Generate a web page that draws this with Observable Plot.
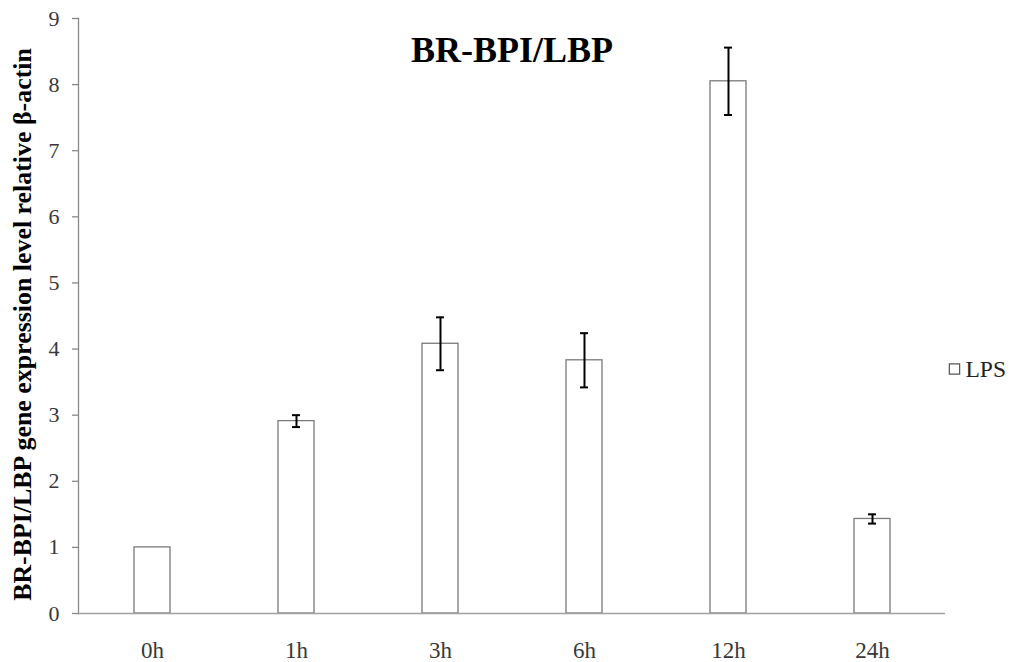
<!DOCTYPE html>
<html>
<head>
<meta charset="utf-8">
<script src="https://cdn.jsdelivr.net/npm/d3@7"></script>
<script src="https://cdn.jsdelivr.net/npm/@observablehq/plot@0.6"></script>
<style>
  html, body { margin: 0; padding: 0; background: #fff; }
  #chart { width: 1012px; height: 662px; }
  #chart svg text { font-family: 'Liberation Serif', 'Times New Roman', serif; }
</style>
</head>
<body>
<div id="chart"></div>
<script>
const categories = ["0h", "1h", "3h", "6h", "12h", "24h"];
const means = [1.0, 2.91, 4.08, 3.83, 8.05, 1.43];
const errors = [0, 0.09, 0.40, 0.41, 0.51, 0.07];
const yTicks = [0, 1, 2, 3, 4, 5, 6, 7, 8, 9];
const seriesName = "LPS";
const title = "BR-BPI/LBP";
const yLabel = "BR-BPI/LBP gene expression level relative β-actin";

const rows = categories.map((c, i) => ({cat: c, v: means[i], e: errors[i]}));
const errRows = rows.filter(d => d.e > 0);

const serif = "'Liberation Serif', 'Times New Roman', serif";

const chart = Plot.plot({
  width: 1012,
  height: 662,
  marginLeft: 78,
  marginRight: 67,
  marginTop: 18,
  marginBottom: 49,
  style: {fontFamily: serif, fontSize: "22px", background: "#fff", overflow: "visible"},
  x: {domain: categories, paddingInner: 0.75, paddingOuter: 0.375, label: null},
  y: {domain: [0, 9], label: null},
  marks: [
    Plot.axisY({ticks: yTicks, tickSize: 6, stroke: "#888", strokeWidth: 1.3, tickPadding: 13,
      fontSize: 22, fontFamily: serif, fill: "#383838", tickFormat: d => d, label: null}),
    Plot.axisX({tickSize: 0, tickPadding: 28, fontSize: 23, fontFamily: serif, fill: "#383838", label: null}),
    Plot.frame({anchor: "left", stroke: "#888", strokeWidth: 1.3}),
    Plot.barY(rows, {x: "cat", y: "v", fill: "white", stroke: "#7a7a7a", strokeWidth: 1.3}),
    Plot.ruleY([0], {stroke: "#a0a0a0", strokeWidth: 1.5}),
    Plot.ruleX(errRows, {x: "cat", y1: d => d.v - d.e, y2: d => d.v + d.e, stroke: "#000", strokeWidth: 2}),
    Plot.tickY(errRows, {x: "cat", y: d => d.v + d.e, stroke: "#000", strokeWidth: 2, insetLeft: 14, insetRight: 14}),
    Plot.tickY(errRows, {x: "cat", y: d => d.v - d.e, stroke: "#000", strokeWidth: 2, insetLeft: 14, insetRight: 14}),
    Plot.text([title], {frameAnchor: "top", dy: 18, fontSize: 36, fontFamily: serif, fontWeight: "bold", fill: "#000", text: d => d}),
    Plot.text([yLabel], {frameAnchor: "left", textAnchor: "middle", dx: -56, dy: 8.5, rotate: -90, fontSize: 25.9, fontFamily: serif, fontWeight: "bold", fill: "#000", text: d => d}),
    Plot.dot([seriesName], {frameAnchor: "right", dx: 9, dy: 53, symbol: "square", r: 5.8, fill: "white", stroke: "#555", strokeWidth: 1.2}),
    Plot.text([seriesName], {frameAnchor: "right", dx: 20, dy: 53.8, textAnchor: "start", fontSize: 23.5, fontFamily: serif, fill: "#222", text: d => d})
  ]
});
document.getElementById("chart").append(chart);
</script>
</body>
</html>
